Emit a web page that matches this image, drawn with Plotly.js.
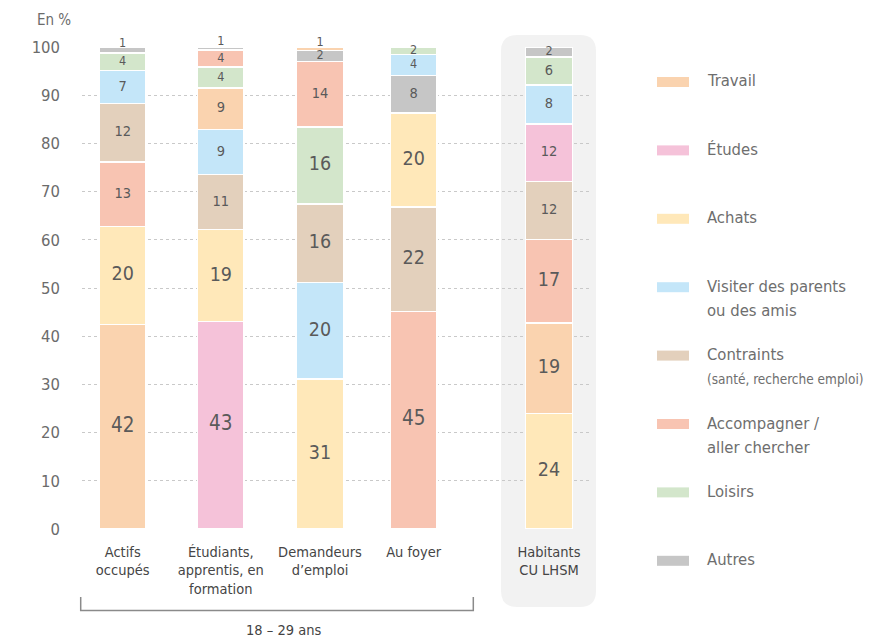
<!DOCTYPE html>
<html>
<head>
<meta charset="utf-8">
<script src="https://cdn.plot.ly/plotly-3.0.1.min.js"></script>
<style>html,body{margin:0;padding:0;background:#fff;}#chart{width:890px;height:640px;}</style>
</head>
<body>
<div id="chart"></div>
<script>
// ---------- DATA ----------
const categories = ["Actifs<br>occupés", "Étudiants,<br>apprentis, en<br>formation", "Demandeurs<br>d’emploi", "Au foyer", "Habitants<br>CU LHSM"];
const motifs = ["Travail", "Études", "Achats", "Visiter des parents ou des amis", "Contraints (santé, recherche emploi)", "Accompagner / aller chercher", "Loisirs", "Autres"];
const legendLines = [["Travail"], ["Études"], ["Achats"], ["Visiter des parents", "ou des amis"], ["Contraints", "(santé, recherche emploi)"], ["Accompagner /", "aller chercher"], ["Loisirs"], ["Autres"]];
const travail     = [42.4,  8.6,  0.7, null, 18.7];
const etudes      = [null, 43.0, null, null, 11.9];
const achats      = [20.4, 19.1, 31.1, 19.5, 24.0];
const visiter     = [ 6.8,  9.4, 20.0,  4.3,  8.1];
const contraints  = [12.2, 11.4, 16.3, 21.7, 12.0];
const accompagner = [13.3,  3.6, 13.6, 45.1, 17.4];
const loisirs     = [ 3.7,  4.3, 16.0,  1.6,  5.8];
const autres      = [ 1.2,  0.6,  2.3,  7.8,  2.1];
const yTicks = [0, 10, 20, 30, 40, 50, 60, 70, 80, 90, 100];
const groupLabel = "18 – 29 ans";
const unitLabel = "En %";

// ---------- STYLE / LAYOUT ----------
const series = [travail, etudes, achats, visiter, contraints, accompagner, loisirs, autres];
const colors = ["#fad3af", "#f5c2d9", "#ffe8b9", "#c4e6f9", "#e3d0bc", "#f8c4b2", "#d3e6cb", "#c6c6c6"];
const FONT = "'Liberation Sans Narrow', 'Arial Narrow', 'DejaVu Sans Condensed', sans-serif";
const W = 890, H = 640, ML = 82, MR = 300, MT = 47, MB = 111;
const PW = W - ML - MR, PH = H - MT - MB;
// x axis expressed in pixel units so bar centres can be placed like the original
const xPos = [122.7, 220.8, 320.0, 413.7, 549.0];
const barWidth = 46.7;
const X = px => (px - ML) / PW;
const Y = py => (H - MB - py) / PH;
const P = (px, py) => X(px).toFixed(5) + "," + Y(py).toFixed(5);

function labelSize(v) {
  if (v >= 40) return 20.5;
  if (v >= 15.5) return 19.5;
  if (v >= 5) return 14.5;
  return 12.5;
}

// sort segments of each bar, largest at the bottom
const nBars = categories.length;
const sorted = [];
for (let b = 0; b < nBars; b++) {
  const segs = [];
  series.forEach((s, m) => { if (s[b] !== null && s[b] !== undefined) segs.push({m: m, v: s[b]}); });
  segs.sort((a, c) => c.v - a.v);
  sorted.push(segs);
}
const maxRank = Math.max(...sorted.map(s => s.length));

const traces = [];
for (let r = 0; r < maxRank; r++) {
  traces.push({
    type: "bar",
    x: xPos,
    y: sorted.map(s => s[r] ? s[r].v : null),
    width: barWidth,
    marker: {color: sorted.map(s => s[r] ? colors[s[r].m] : "rgba(0,0,0,0)"),
             line: {color: "#ffffff", width: 1.5}},
    showlegend: false,
    hoverinfo: "skip"
  });
}
// value labels (very thin top segments: label drawn just above the segment)
const tx = [], ty = [], tt = [], ts = [], tp = [];
sorted.forEach((segs, b) => {
  let base = 0;
  segs.forEach(sg => {
    tx.push(xPos[b]); ty.push(base + sg.v / 2); tt.push(String(Math.round(sg.v))); ts.push(labelSize(sg.v));
    tp.push(sg.v < 1.5 ? "top center" : "middle center");
    base += sg.v;
  });
});
traces.push({
  type: "scatter", mode: "text", x: tx, y: ty, text: tt,
  textposition: tp,
  textfont: {family: FONT, size: ts, color: "#5a5a5a"},
  cliponaxis: false, showlegend: false, hoverinfo: "skip"
});

const shapes = [];
// rounded grey panel behind the last bar
(function () {
  const x0 = 501, x1 = 596, y0 = 35, y1 = 607, r = 16;
  const path = "M" + P(x0 + r, y0) + " L" + P(x1 - r, y0) + " Q" + P(x1, y0) + " " + P(x1, y0 + r) +
    " L" + P(x1, y1 - r) + " Q" + P(x1, y1) + " " + P(x1 - r, y1) +
    " L" + P(x0 + r, y1) + " Q" + P(x0, y1) + " " + P(x0, y1 - r) +
    " L" + P(x0, y0 + r) + " Q" + P(x0, y0) + " " + P(x0 + r, y0) + " Z";
  shapes.push({type: "path", xref: "paper", yref: "paper", path: path, fillcolor: "#f2f2f2", line: {width: 0}, layer: "below"});
})();
// bracket under the 18-29 group
shapes.push({type: "path", xref: "paper", yref: "paper",
  path: "M" + P(80.7, 597) + " L" + P(80.7, 610.5) + " L" + P(473.3, 610.5) + " L" + P(473.3, 597),
  line: {color: "#8a8a8a", width: 1.5}, layer: "above"});

const annotations = [];
annotations.push({xref: "paper", yref: "paper", x: X(54), y: Y(20), text: unitLabel, showarrow: false,
  xanchor: "center", yanchor: "middle", font: {family: FONT, size: 15, color: "#6b6b6b"}});
annotations.push({xref: "paper", yref: "paper", x: X(283), y: Y(630), text: groupLabel, showarrow: false,
  xanchor: "center", yanchor: "middle", font: {family: FONT, size: 14.5, color: "#444444"}});

// custom legend
legendLines.forEach((lines, i) => {
  const cy = 82 + i * 68.4;
  shapes.push({type: "rect", xref: "paper", yref: "paper",
    x0: X(657), x1: X(689), y0: Y(cy + 5), y1: Y(cy - 5),
    fillcolor: colors[i], line: {width: 0}});
  lines.forEach((ln, k) => {
    const sub = (i === 4 && k === 1);
    annotations.push({xref: "paper", yref: "paper", x: X(705), y: Y(cy - 1 + k * 24.5), text: ln,
      showarrow: false, xanchor: "left", yanchor: "middle",
      font: {family: FONT, size: sub ? 13.5 : 16.5, color: "#6e6e6e"}});
  });
});

const layout = {
  width: W, height: H,
  margin: {l: ML, r: MR, t: MT, b: MB, pad: 0},
  paper_bgcolor: "#ffffff", plot_bgcolor: "rgba(0,0,0,0)",
  barmode: "stack", bargap: 0,
  showlegend: false, hovermode: false,
  font: {family: FONT, color: "#555555"},
  xaxis: {range: [ML, W - MR], tickmode: "array", tickvals: xPos, ticktext: categories,
    showgrid: false, zeroline: false, showline: false, ticks: "", fixedrange: true,
    tickfont: {family: FONT, size: 14.5, color: "#454545"}, ticklabelstandoff: 12},
  yaxis: {range: [0, 100], tickmode: "array", tickvals: yTicks, ticktext: yTicks.map(String),
    showgrid: true, gridcolor: "#c9c9c9", gridwidth: 1, griddash: "dot",
    zeroline: false, showline: false, ticks: "", fixedrange: true,
    tickfont: {family: FONT, size: 16.5, color: "#6b6b6b"}, ticklabelstandoff: 21},
  shapes: shapes,
  annotations: annotations
};

Plotly.newPlot("chart", traces, layout, {displayModeBar: false, staticPlot: true});
</script>
</body>
</html>
